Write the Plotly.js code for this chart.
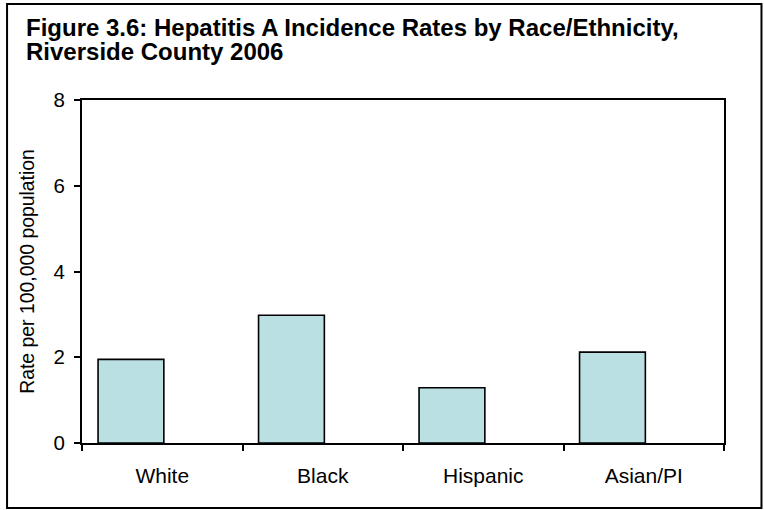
<!DOCTYPE html>
<html>
<head>
<meta charset="utf-8">
<script src="https://cdn.plot.ly/plotly-3.0.1.min.js"></script>
<style>html,body{margin:0;padding:0;background:#fff;}#chart{width:764px;height:510px;}</style>
</head>
<body>
<div id="chart"></div>
<script>
const categories = ["White", "Black", "Hispanic", "Asian/PI"];
const rates = [1.95, 2.98, 1.29, 2.12];
const yTicks = [0, 2, 4, 6, 8];
const titleLine1 = "Figure 3.6: Hepatitis A Incidence Rates by Race/Ethnicity,";
const titleLine2 = "Riverside County 2006";
const yTitle = "Rate per 100,000 population";

const FONT = "Arial, 'Liberation Sans', sans-serif";
const L = 82, R = 39.5, T = 100, B = 67;
const W = 764, H = 510;
const pw = W - L - R, ph = H - T - B;
const px = v => (v - L) / pw;
const py = v => (H - B - v) / ph;

const trace = {
  type: "bar",
  x: categories,
  y: rates,
  width: 0.41,
  offset: -0.4,
  marker: {color: "#BBE0E3", line: {color: "#000", width: 1.6}},
  hoverinfo: "x+y"
};

const layout = {
  width: W, height: H,
  margin: {l: L, r: R, t: T, b: B, pad: 0},
  paper_bgcolor: "#fff",
  plot_bgcolor: "#fff",
  showlegend: false,
  font: {family: FONT, color: "#000", size: 20},
  xaxis: {
    type: "category",
    showline: true, mirror: true, linecolor: "#000", linewidth: 2,
    ticks: "outside", ticklen: 6, tickwidth: 2, tickcolor: "#000",
    tickson: "boundaries",
    showgrid: false, zeroline: false,
    tickfont: {size: 21, family: FONT},
    ticklabelstandoff: 13,
    range: [-0.5, 3.5]
  },
  yaxis: {
    range: [0, 8],
    tickvals: yTicks,
    ticktext: yTicks.map(String),
    showline: true, mirror: true, linecolor: "#000", linewidth: 2,
    ticks: "outside", ticklen: 6, tickwidth: 2, tickcolor: "#000",
    showgrid: false, zeroline: false,
    tickfont: {size: 20.5, family: FONT},
    ticklabelstandoff: 5,
    title: {text: yTitle, font: {size: 19.4, family: FONT}, standoff: 14}
  },
  annotations: [
    {text: "<b>" + titleLine1 + "</b>", xref: "paper", yref: "paper",
     x: px(25), y: py(36), xanchor: "left", yanchor: "bottom", showarrow: false,
     font: {size: 24, family: FONT, color: "#000"}, borderpad: 0, yshift: -6},
    {text: "<b>" + titleLine2 + "</b>", xref: "paper", yref: "paper",
     x: px(25), y: py(60), xanchor: "left", yanchor: "bottom", showarrow: false,
     font: {size: 24, family: FONT, color: "#000"}, borderpad: 0, yshift: -6}
  ],
  shapes: [
    {type: "rect", xref: "paper", yref: "paper",
     x0: px(7), x1: px(762), y0: py(508), y1: py(4),
     line: {color: "#000", width: 2}, fillcolor: "rgba(0,0,0,0)", layer: "below"}
  ]
};

Plotly.newPlot("chart", [trace], layout, {displayModeBar: false, staticPlot: true});
</script>
</body>
</html>
